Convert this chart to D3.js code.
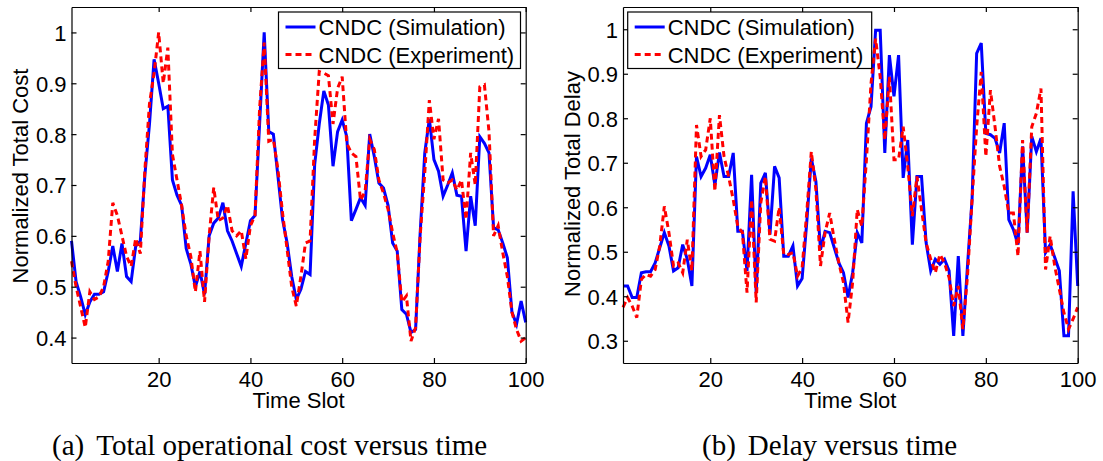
<!DOCTYPE html>
<html>
<head>
<meta charset="utf-8">
<script src="https://cdn.jsdelivr.net/npm/d3@7"></script>
<style>
  body { margin: 0; background: #fff; }
  text { font-family: "Liberation Sans", Arial, sans-serif; }
</style>
</head>
<body>
<div id="chart"></div>
<script>
// Time slots 1..100
const slots = d3.range(1, 101);

// (a) normalized total cost
const costSim = [0.59,0.51,0.48,0.445,0.47,0.485,0.485,0.49,0.53,0.58,
  0.53,0.585,0.52,0.51,0.58,0.59,0.72,0.82,0.947,0.9,
  0.85,0.855,0.71,0.68,0.66,0.575,0.545,0.5,0.53,0.485,
  0.6,0.625,0.635,0.665,0.61,0.59,0.565,0.54,0.585,0.63,
  0.64,0.82,1.0,0.805,0.8,0.717,0.632,0.586,0.52,0.475,
  0.495,0.53,0.524,0.74,0.82,0.885,0.857,0.737,0.805,0.828,
  0.795,0.63,0.652,0.675,0.66,0.8,0.756,0.704,0.694,0.66,
  0.586,0.57,0.455,0.446,0.41,0.416,0.606,0.763,0.83,0.75,
  0.727,0.678,0.7,0.724,0.68,0.678,0.57,0.678,0.62,0.795,
  0.782,0.763,0.616,0.612,0.586,0.557,0.45,0.426,0.472,0.43];
const costExp = [0.55,0.5,0.46,0.42,0.49,0.475,0.48,0.5,0.55,0.665,
  0.64,0.6,0.56,0.54,0.595,0.565,0.73,0.86,0.92,1.0,
  0.9,0.97,0.76,0.71,0.66,0.6,0.56,0.49,0.57,0.47,
  0.6,0.695,0.63,0.635,0.66,0.61,0.6,0.61,0.555,0.62,
  0.64,0.85,0.98,0.786,0.79,0.73,0.645,0.573,0.5,0.462,
  0.52,0.586,0.59,0.79,0.923,0.92,0.915,0.82,0.89,0.913,
  0.782,0.763,0.756,0.67,0.687,0.79,0.77,0.71,0.684,0.652,
  0.606,0.567,0.47,0.482,0.393,0.42,0.6,0.724,0.867,0.79,
  0.83,0.71,0.704,0.71,0.69,0.71,0.632,0.763,0.7,0.893,
  0.897,0.805,0.6,0.62,0.567,0.52,0.45,0.416,0.393,0.4];

// (b) normalized total delay
const delaySim = [0.423,0.423,0.397,0.397,0.453,0.455,0.455,0.475,0.509,0.543,
  0.513,0.457,0.464,0.516,0.483,0.423,0.714,0.669,0.688,0.718,
  0.65,0.723,0.669,0.669,0.722,0.546,0.546,0.457,0.673,0.408,
  0.654,0.677,0.539,0.692,0.666,0.49,0.49,0.513,0.423,0.44,
  0.565,0.71,0.658,0.505,0.546,0.543,0.509,0.475,0.453,0.397,
  0.453,0.543,0.52,0.789,0.826,0.998,0.998,0.722,0.942,0.849,
  0.942,0.666,0.751,0.516,0.669,0.669,0.52,0.457,0.483,0.472,
  0.483,0.457,0.311,0.49,0.311,0.468,0.617,0.946,0.969,0.766,
  0.763,0.755,0.722,0.789,0.572,0.55,0.516,0.737,0.543,0.759,
  0.725,0.755,0.498,0.516,0.487,0.457,0.311,0.311,0.636,0.423];
const delayExp = [0.375,0.397,0.378,0.352,0.438,0.449,0.445,0.46,0.513,0.602,
  0.543,0.468,0.475,0.453,0.527,0.457,0.785,0.714,0.729,0.8,
  0.636,0.807,0.714,0.669,0.617,0.557,0.543,0.408,0.617,0.386,
  0.61,0.669,0.528,0.524,0.6,0.494,0.494,0.498,0.445,0.464,
  0.587,0.725,0.64,0.468,0.543,0.587,0.528,0.475,0.431,0.341,
  0.431,0.595,0.557,0.707,0.878,0.979,0.893,0.751,0.893,0.707,
  0.707,0.781,0.692,0.58,0.669,0.595,0.52,0.483,0.453,0.494,
  0.475,0.442,0.378,0.423,0.326,0.445,0.617,0.781,0.904,0.714,
  0.863,0.781,0.692,0.647,0.587,0.587,0.49,0.751,0.543,0.781,
  0.811,0.867,0.46,0.535,0.468,0.416,0.363,0.326,0.349,0.375];

const xTicks = [20, 40, 60, 80, 100];
const costTicks = [0.4, 0.5, 0.6, 0.7, 0.8, 0.9, 1];
const delayTicks = [0.3, 0.4, 0.5, 0.6, 0.7, 0.8, 0.9, 1];
const seriesNames = ["CNDC (Simulation)", "CNDC (Experiment)"];

const W = 1103, H = 461;
const svg = d3.select("#chart")
  .append("svg")
    .attr("width", W)
    .attr("height", H);

svg.append("rect").attr("width", W).attr("height", H).attr("fill", "#fff");

function drawPanel(p) {
  const width = p.x1 - p.x0, height = p.y1 - p.y0;
  const g = svg.append("g").attr("transform", `translate(${p.x0},${p.y0})`);

  const x = d3.scaleLinear().domain([1, 100]).range([0, width]);
  const y = d3.scaleLinear().domain(p.yDomain).range([height, 0]);

  // Lines
  const line = (vals) => d3.line()
    .x((d, i) => x(slots[i]))
    .y(d => y(d))(vals);

  g.append("path")
    .attr("d", line(p.sim))
    .attr("fill", "none")
    .attr("stroke", "#0000ff")
    .attr("stroke-width", 3);

  g.append("path")
    .attr("d", line(p.exp))
    .attr("fill", "none")
    .attr("stroke", "#ff0000")
    .attr("stroke-width", 3)
    .attr("stroke-dasharray", "6,4");

  // Axes, ticks pointing inward (box on)
  const bottom = g.append("g")
    .attr("transform", `translate(0,${height})`)
    .call(d3.axisBottom(x).tickValues(xTicks).tickSizeInner(-5).tickSizeOuter(0).tickPadding(8));
  g.append("g")
    .call(d3.axisTop(x).tickValues(xTicks).tickSizeInner(-5).tickSizeOuter(0).tickFormat(""));
  const left = g.append("g")
    .call(d3.axisLeft(y).tickValues(p.yTicks).tickSizeInner(-5).tickSizeOuter(0).tickPadding(5)
      .tickFormat(d => d === 1 ? "1" : d3.format(".1f")(d)));
  g.append("g")
    .attr("transform", `translate(${width},0)`)
    .call(d3.axisRight(y).tickValues(p.yTicks).tickSizeInner(-5).tickSizeOuter(0).tickFormat(""));

  g.selectAll(".domain, .tick line").attr("stroke", "#000").attr("stroke-width", 1.2);
  g.selectAll(".tick text")
    .attr("fill", "#000")
    .style("font-size", "22px")
    .style("font-family", '"Liberation Sans", Arial, sans-serif');
  left.selectAll(".tick text").attr("dy", "0.36em");

  // Axis labels
  g.append("text")
    .attr("x", width / 2)
    .attr("y", height + 45)
    .attr("text-anchor", "middle")
    .style("font-size", "22px")
    .text("Time Slot");

  g.append("text")
    .attr("transform", `translate(${p.yLabelX - p.x0},${p.yLabelY - p.y0}) rotate(-90)`)
    .attr("text-anchor", "middle")
    .style("font-size", "22px")
    .text(p.yLabel);

  // Legend
  const lg = g.append("g").attr("transform", `translate(${p.legX - p.x0},${12 - p.y0})`);
  lg.append("rect")
    .attr("width", p.legW).attr("height", 56.5)
    .attr("fill", "#fff").attr("stroke", "#000").attr("stroke-width", 1.2);
  const rows = lg.selectAll(".row")
    .data(seriesNames)
    .join("g")
      .attr("transform", (d, i) => `translate(0,${15 + i * 27.5})`);
  rows.append("line")
    .attr("x1", p.legPad).attr("x2", p.legPad + 30)
    .attr("stroke", (d, i) => i === 0 ? "#0000ff" : "#ff0000")
    .attr("stroke-width", 3)
    .attr("stroke-dasharray", (d, i) => i === 0 ? null : "6,4");
  rows.append("text")
    .attr("x", p.legPad + 33)
    .attr("y", 8)
    .style("font-size", "22px")
    .text(d => d);

  // Caption
  const cap = svg.append("text")
    .attr("x", p.capX)
    .attr("y", 455)
    .style("font-family", '"Liberation Serif", "Times New Roman", serif')
    .style("font-size", "29px");
  cap.append("tspan").text(p.capTag);
  cap.append("tspan").attr("dx", 12).text(p.capText);
}

drawPanel({
  x0: 71.5, x1: 525.7, y0: 7, y1: 363,
  yDomain: [0.35, 1.05], yTicks: costTicks,
  sim: costSim, exp: costExp,
  yLabel: "Normalized Total Cost", yLabelX: 28, yLabelY: 176,
  legX: 278.5, legW: 242, legPad: 7,
  capX: 52, capTag: "(a)", capText: "Total operational cost versus time"
});

drawPanel({
  x0: 623, x1: 1077.7, y0: 7, y1: 363,
  yDomain: [0.25, 1.05], yTicks: delayTicks,
  sim: delaySim, exp: delayExp,
  yLabel: "Normalized Total Delay", yLabelX: 580, yLabelY: 184,
  legX: 627.7, legW: 244, legPad: 7,
  capX: 702, capTag: "(b)", capText: "Delay versus time"
});
</script>
</body>
</html>
